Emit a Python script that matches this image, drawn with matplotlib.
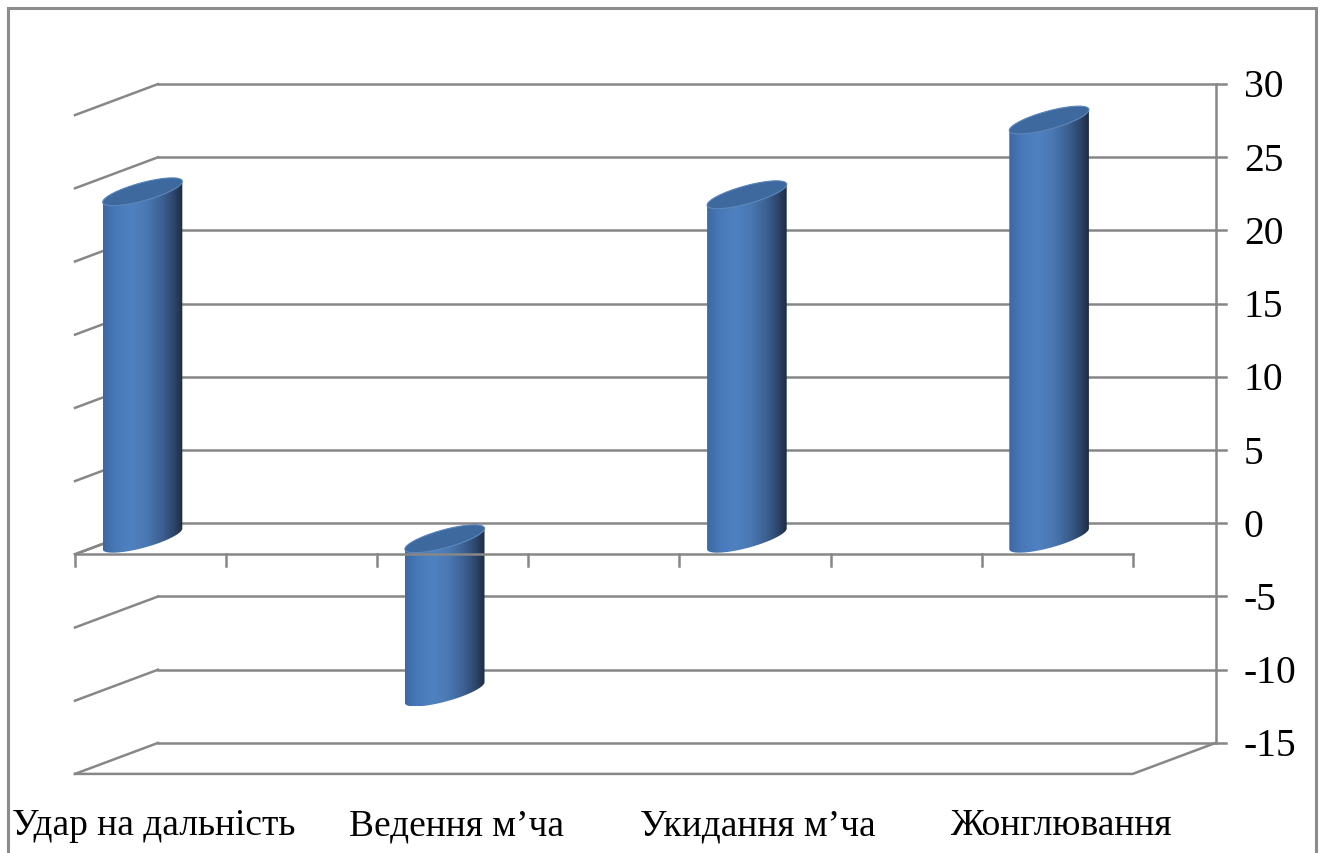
import numpy as np
import matplotlib
matplotlib.use("Agg")
import matplotlib.pyplot as plt
from matplotlib.colors import LinearSegmentedColormap
from matplotlib.patches import Polygon, Rectangle

# data
categories = ["Удар на дальність", "Ведення м’ча", "Укидання м’ча", "Жонглювання"]
values = [23.7, -10.5, 23.5, 28.6]
y_ticks = [30, 25, 20, 15, 10, 5, 0, -5, -10, -15]

# 3d-ish geometry (x in category units, y in value units)
DX, DY = 0.2747, 2.117           # offset from front plane to back wall
AX_LEFT, N_TICKS, TICK_STEP = -0.086, 8, 0.5
R, A, B = 0.088, 0.098, 0.95      # cylinder cross-section ellipse
VMIN, VMAX = -15, 30
GRID = "#878787"
LW = 1.8

fig = plt.figure(figsize=(13.23, 8.54), dpi=100)
ax = fig.add_axes([0, 0, 1, 1])
ax.axis("off")

ax_right = AX_LEFT + TICK_STEP * (N_TICKS - 1)

# back wall gridlines + left wall diagonals
for v in y_ticks:
    ax.plot([AX_LEFT + DX, ax_right + DX + 0.033], [v, v], color=GRID, lw=LW, zorder=1)
    ax.plot([AX_LEFT, AX_LEFT + DX], [v - DY, v], color=GRID, lw=LW, zorder=1)

# vertical axis line at back right
ax.plot([ax_right + DX] * 2, [VMIN, VMAX], color=GRID, lw=LW, zorder=1)

# floor edge at -15
ax.plot([AX_LEFT, ax_right, ax_right + DX], [VMIN - DY, VMIN - DY, VMIN],
        color=GRID, lw=LW, zorder=1)

# cylinders
cmap = LinearSegmentedColormap.from_list("cyl", [
    (0.0, "#3c69a4"), (0.15, "#4878b7"), (0.35, "#4f81c1"), (0.55, "#4a78b3"),
    (0.75, "#3b5f90"), (0.9, "#2b4467"), (1.0, "#1c2b42")])
grad = np.linspace(0, 1, 256).reshape(1, -1)
S = np.hypot(R, A)
phi = np.arctan2(A, R)

for i, v in enumerate(values):
    xc = i + DX / 2
    # ellipse centres sit at mid depth
    yc_top = max(v, 0) - DY / 2
    yc_bot = min(v, 0) - DY / 2
    t = np.linspace(phi + np.pi, phi + 2 * np.pi, 80)
    fx = xc + R * np.cos(t) + A * np.sin(t)
    fy = B * np.sin(t)
    body = np.vstack([
        np.column_stack([fx, yc_top + fy]),
        np.column_stack([fx[::-1], yc_bot + fy[::-1]])])
    poly = Polygon(body, closed=True, facecolor="none", edgecolor="none")
    ax.add_patch(poly)
    im = ax.imshow(grad, cmap=cmap, aspect="auto", zorder=3,
                   extent=[xc - S, xc + S, yc_bot - B, yc_top + B])
    im.set_clip_path(poly)
    tt = np.linspace(0, 2 * np.pi, 160)
    ax.fill(xc + R * np.cos(tt) + A * np.sin(tt), yc_top + B * np.sin(tt),
            color="#3d699f", zorder=4, lw=0.8, ec="#5a84b8")

ax.set_xlim(-0.3342, 4.0437)
ax.set_ylim(-22.52, 35.81)

# front category axis at zero, drawn over the bars
ax.plot([AX_LEFT, ax_right], [-DY, -DY], color=GRID, lw=LW, zorder=5)
for k in range(N_TICKS):
    xt = AX_LEFT + k * TICK_STEP
    ax.plot([xt, xt], [-DY, -DY - 0.8], color=GRID, lw=LW, zorder=5)
ax.plot([AX_LEFT, AX_LEFT + DX], [-DY, 0], color=GRID, lw=LW, zorder=1)

# labels
for v in y_ticks:
    ax.text(ax_right + DX + 0.093, v - 0.2, str(v), ha="left", va="center",
            fontsize=28.5, family="Liberation Serif", color="black")
for i, c in enumerate(categories):
    ax.text(i + 0.175, -20.6, c, ha="center", va="center",
            fontsize=27, family="Liberation Serif", color="black")

# chart border
fig.patches.append(Rectangle((8 / 1323, -0.05), 1308 / 1323, 1.05 - 9 / 854,
                             transform=fig.transFigure, fill=False,
                             edgecolor="#8c8c8c", lw=2.2))

fig.savefig("out.png", dpi=100)
